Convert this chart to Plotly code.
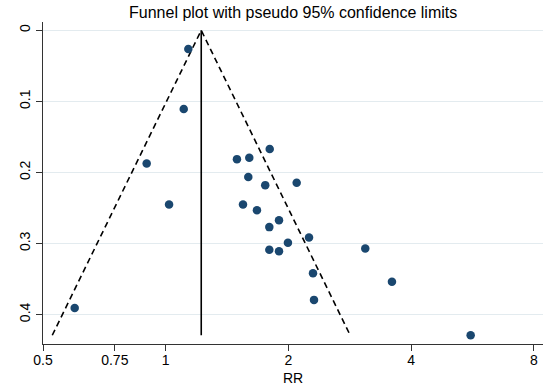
import numpy as np
import plotly.graph_objects as go

# Study estimates
rr = [1.136, 1.107, 0.898, 1.019, 1.495, 1.603, 1.799, 1.594, 1.754, 2.095,
      1.547, 1.674, 1.896, 1.795, 2.246, 1.994, 1.795, 1.896, 3.086, 2.297,
      3.588, 2.310, 0.598, 5.596]
se = [0.0263, 0.1108, 0.1873, 0.2451, 0.1813, 0.1794, 0.1672, 0.2066, 0.2179, 0.2146,
      0.2451, 0.2531, 0.2672, 0.2770, 0.2915, 0.2991, 0.3090, 0.3108, 0.3070, 0.3418,
      0.3540, 0.3794, 0.3907, 0.4292]
pooled_rr = 1.222
z = 1.96

x_ticks = [0.5, 0.75, 1, 2, 4, 8]
x_labels = ["0.5", "0.75", "1", "2", "4", "8"]
y_ticks = [0, 0.1, 0.2, 0.3, 0.4]
y_labels = ["0", "0.1", "0.2", "0.3", "0.4"]

se_max = max(se)
lp = np.log(pooled_rr)
lo = float(np.exp(lp - z * se_max))
hi = float(np.exp(lp + z * se_max))

fig = go.Figure()
fig.add_trace(go.Scatter(
    x=[lo, pooled_rr, hi], y=[se_max, 0, se_max], mode="lines",
    line=dict(color="black", width=1.6, dash="6px,4px"), hoverinfo="skip",
    showlegend=False))
fig.add_trace(go.Scatter(
    x=[pooled_rr, pooled_rr], y=[0, se_max], mode="lines",
    line=dict(color="black", width=1.6), hoverinfo="skip", showlegend=False))
fig.add_trace(go.Scatter(
    x=rr, y=se, mode="markers",
    marker=dict(color="#1a476f", size=8.5, line=dict(width=0)),
    showlegend=False))

fig.update_layout(
    width=550, height=386,
    margin=dict(l=43, r=7, t=22, b=42),
    paper_bgcolor="white", plot_bgcolor="white",
    font=dict(family="Liberation Sans, Arial, sans-serif", size=14, color="black"),
    title=dict(text="Funnel plot with pseudo 95% confidence limits",
               x=0.533, xanchor="center", yref="container", y=0.969, yanchor="middle",
               font=dict(size=16, color="black")),
    xaxis=dict(type="log", range=[np.log10(0.5), np.log10(8.42)],
               tickvals=x_ticks, ticktext=x_labels, automargin=False,
               showgrid=False, zeroline=False,
               showline=True, linecolor="#333333", linewidth=1,
               ticks="outside", ticklen=6, tickcolor="#333333",
               ticklabelstandoff=-3),
    yaxis=dict(range=[0.4415, -0.0117], automargin=False,
               tickvals=y_ticks, ticktext=y_labels, tickangle=-90,
               showgrid=True, gridcolor="#e3ebef", gridwidth=1,
               zeroline=False,
               showline=True, linecolor="#333333", linewidth=1,
               ticks="outside", ticklen=6, tickcolor="#333333"),
    annotations=[dict(text="RR", xref="paper", yref="paper", x=0.5, y=-34 / 322,
                      xanchor="center", yanchor="middle", showarrow=False,
                      font=dict(size=14, color="black"))],
)

fig.write_html(
    "out.html",
    config={"displayModeBar": False},
    post_script="document.body.style.margin='0';document.body.style.overflow='hidden';",
)
